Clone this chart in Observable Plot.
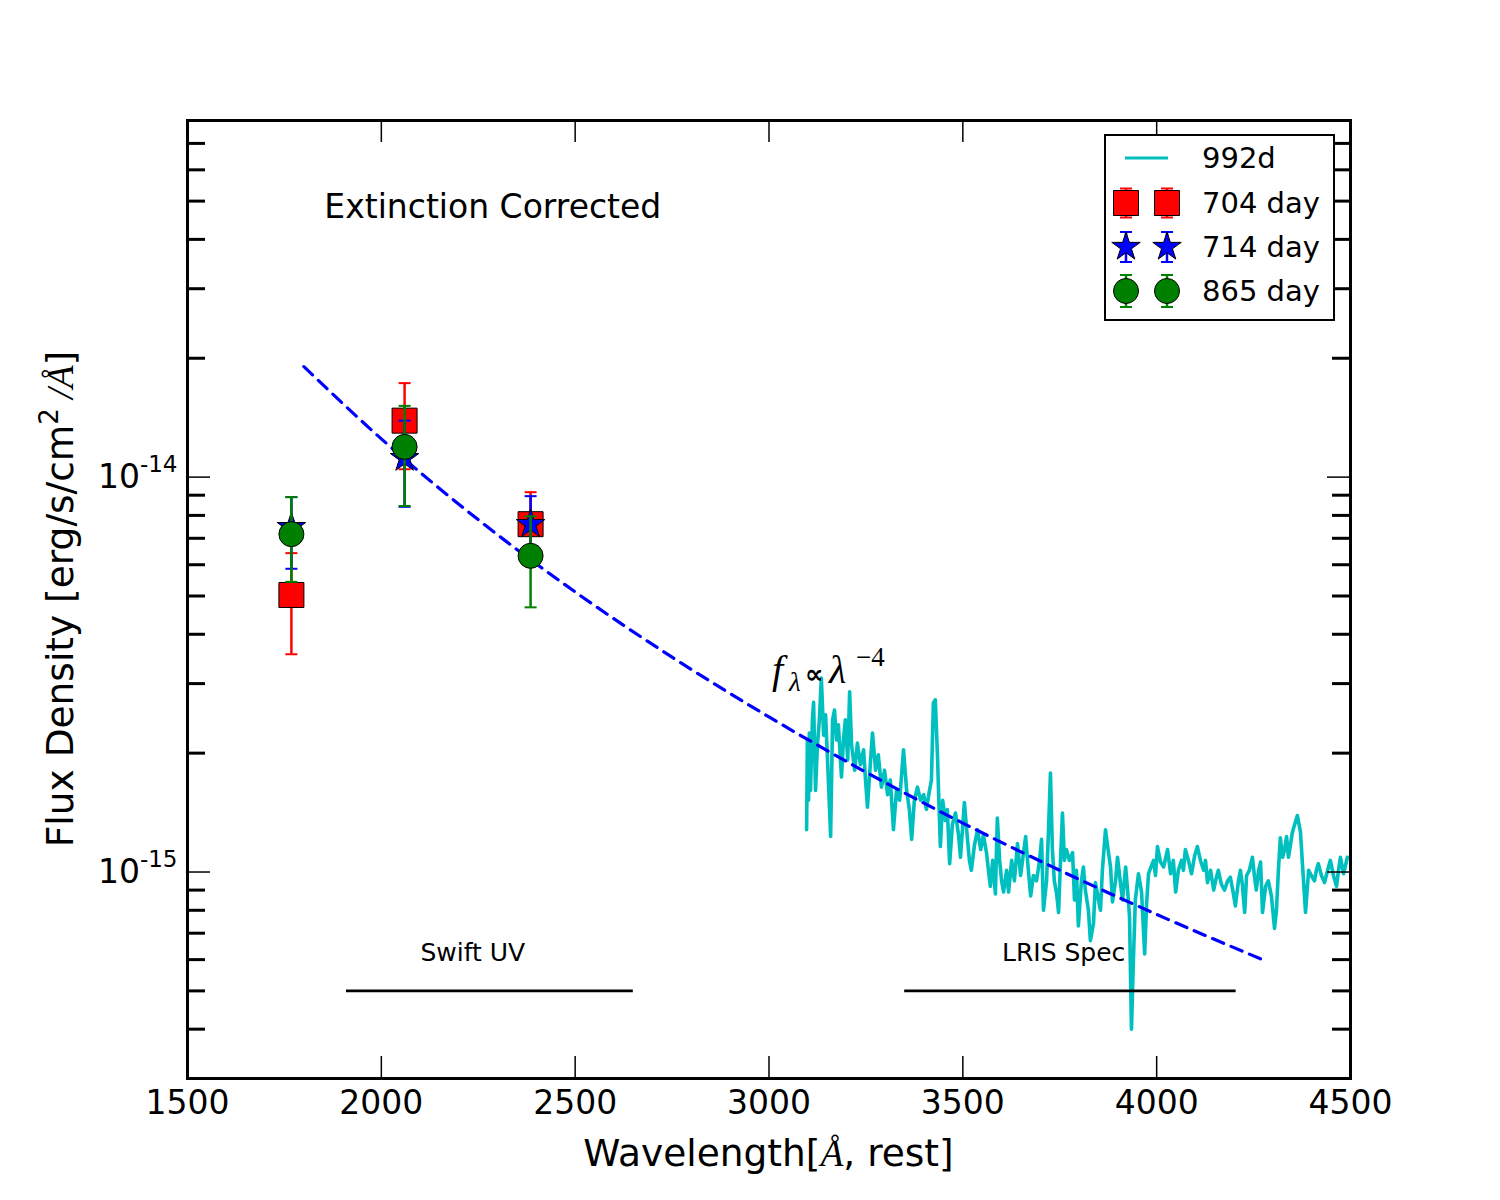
<!DOCTYPE html>
<html><head><meta charset="utf-8">
<script src="https://cdn.jsdelivr.net/npm/d3@7"></script>
<script src="https://cdn.jsdelivr.net/npm/@observablehq/plot@0.6"></script>
<style>
body{margin:0;background:#fff;}
#chart{position:relative;width:1500px;height:1200px;}
</style></head><body><div id="chart"></div>
<script>
// ---------- DATA ----------
// 992d spectrum: wavelength (Å, rest) and flux (units of 1e-15 erg/s/cm2/Å)
const specWave = [
3097,3099,3102,3104,3107,3112,3115,3120,3125,3130,
3135,3141,3146,3151,3159,3164,3169,3174,3179,3187,
3192,3197,3203,3208,3213,3221,3228,3236,3244,3249,
3254,3262,3267,3275,3282,3290,3298,3306,3313,3321,
3329,3337,3347,3355,3362,3368,3375,3383,3391,3399,
3406,3414,3419,3424,3429,3435,3437,3442,3448,3455,
3460,3466,3473,3481,3489,3494,3499,3504,3512,3517,
3522,3530,3538,3546,3553,3561,3566,3571,3577,3584,
3589,3595,3600,3605,3613,3618,3626,3633,3641,3649,
3654,3662,3669,3675,3682,3690,3698,3703,3708,3716,
3721,3726,3731,3736,3742,3747,3752,3757,3762,3767,
3775,3783,3788,3793,3798,3806,3811,3816,3824,3829,
3837,3842,3850,3855,3860,3868,3873,3881,3886,3894,
3899,3907,3912,3920,3925,3930,3935,3940,3945,3953,
3961,3969,3974,3979,3987,3992,3997,4002,4010,4018,
4028,4036,4043,4049,4056,4064,4069,4074,4082,4090,
4098,4105,4113,4121,4126,4131,4139,4147,4152,4159,
4167,4175,4183,4190,4198,4203,4211,4216,4221,4227,
4232,4239,4247,4252,4257,4263,4268,4273,4281,4288,
4296,4304,4309,4314,4319,4325,4330,4335,4340,4345,
4350,4358,4363,4371,4376,4384,4392,4399,4407,4412,
4417,4425,4433,4441,4448,4456,4464,4469,4474,4482,
4492];
const specFlux = [
1.28,2.16,1.52,2.25,1.61,2.43,2.69,1.61,2.10,2.43,
3.10,2.22,2.50,1.92,1.23,2.43,2.57,2.16,2.36,1.74,
2.16,2.43,1.92,2.86,2.10,1.81,2.12,1.87,2.04,1.71,
1.46,1.92,2.25,1.81,1.98,1.64,1.81,1.57,1.71,1.28,
1.61,1.52,2.04,1.61,1.44,1.21,1.52,1.64,1.52,1.57,
1.44,1.61,1.71,2.68,2.73,1.92,1.64,1.16,1.52,1.35,
1.44,1.05,1.32,1.41,1.24,1.09,1.28,1.50,1.21,1.07,
1.01,1.17,1.28,1.14,1.24,1.12,1.01,0.92,1.07,0.88,
1.37,1.07,0.95,0.89,1.01,0.89,1.07,0.95,1.18,0.98,
1.07,1.23,1.01,0.87,0.98,0.95,1.07,1.21,0.80,0.95,
1.28,1.78,1.14,0.95,0.88,0.79,1.07,1.41,1.07,1.14,
1.07,1.12,0.85,1.01,0.73,0.95,1.03,0.90,0.80,0.67,
0.74,0.94,0.85,0.80,1.01,1.28,1.17,1.03,0.84,0.95,
1.09,0.93,0.85,1.03,0.90,0.77,0.40,0.60,0.85,0.99,
0.89,0.62,0.83,0.99,1.04,1.07,0.98,1.16,1.06,1.03,
1.14,0.99,1.07,0.89,1.01,1.07,1.01,1.14,1.07,0.99,
1.10,1.16,1.07,1.01,1.07,0.94,1.01,0.90,0.95,1.01,
0.93,0.90,0.95,0.97,0.88,0.82,0.95,1.01,0.93,0.79,
0.98,1.01,1.09,0.98,0.90,1.01,1.06,0.79,0.92,0.95,
0.87,0.72,0.80,1.01,1.22,1.09,1.14,1.23,1.09,1.17,
1.26,1.34,1.39,1.26,1.05,0.79,1.01,0.98,0.95,1.01,
1.05,0.98,0.94,1.01,1.07,0.98,0.92,1.01,1.09,0.99,
1.09];

// f_lambda ∝ lambda^-4 model line
const modelWave = [1800, 2000, 2250, 2500, 2750, 3000, 3250, 3500, 3750, 4000, 4280];
const modelFlux = [1.905e-14, 1.25e-14, 7.80e-15, 5.12e-15, 3.50e-15, 2.47e-15, 1.79e-15, 1.33e-15, 1.01e-15, 7.81e-16, 5.96e-16];

// photometry
const ptWave = [1768, 2060, 2385];
const flux704 = [5.03e-15, 1.39e-14, 7.60e-15];
const lo704   = [3.56e-15, 1.047e-14, 6.04e-15];
const hi704   = [6.42e-15, 1.73e-14, 9.16e-15];
const flux714 = [7.47e-15, 1.117e-14, 7.60e-15];
const lo714   = [5.86e-15, 8.41e-15, 6.25e-15];
const hi714   = [8.90e-15, 1.39e-14, 8.95e-15];
const flux865 = [7.17e-15, 1.193e-14, 6.32e-15];
const lo865   = [5.43e-15, 8.45e-15, 4.68e-15];
const hi865   = [8.90e-15, 1.515e-14, 7.96e-15];

// bands
const bandNames = ["Swift UV", "LRIS Spec"];
const bandStart = [1910, 3350];
const bandEnd = [2650, 4205];
const bandLevel = 5e-16;
const bandLabelWave = [2236, 3760];
const bandLabelLevel = 6.24e-16;

// ticks
const xTicks = [1500, 2000, 2500, 3000, 3500, 4000, 4500];
const yMajor = [1e-15, 1e-14];
const yMinor = [4e-16,5e-16,6e-16,7e-16,8e-16,9e-16,2e-15,3e-15,4e-15,5e-15,6e-15,7e-15,8e-15,9e-15,2e-14,3e-14,4e-14,5e-14,6e-14,7e-14];

const legendLabels = ["992d", "704 day", "714 day", "865 day"];

// ---------- BUILD ----------
const W = 1500, H = 1200, mL = 187, mR = 150, mT = 120, mB = 122;
const fW = W - mL - mR, fH = H - mT - mB;

const spec = specWave.map((w, i) => ({w, f: specFlux[i] * 1e-15}));
const model = modelWave.map((w, i) => ({w, f: modelFlux[i]}));
const pts = (fl, lo, hi) => ptWave.map((w, i) => ({w, f: fl[i], lo: lo[i], hi: hi[i]}));
const s704 = pts(flux704, lo704, hi704);
const s714 = pts(flux714, lo714, hi714);
const s865 = pts(flux865, lo865, hi865);
const bands = bandNames.map((n, i) => ({n, x1: bandStart[i], x2: bandEnd[i], f: bandLevel, lw: bandLabelWave[i], lf: bandLabelLevel}));

const hcap = {draw(ctx, size) { const w = Math.sqrt(size); ctx.moveTo(-w / 2, 0); ctx.lineTo(w / 2, 0); }};
const capR = Math.sqrt(144 / Math.PI);

function errMarks(data, color, symbol, r) {
  return [
    Plot.ruleX(data, {x: "w", y1: "lo", y2: "hi", stroke: color, strokeWidth: 2.5}),
    Plot.dot(data, {x: "w", y: "lo", symbol: hcap, r: capR, stroke: color, strokeWidth: 2, fill: "none"}),
    Plot.dot(data, {x: "w", y: "hi", symbol: hcap, r: capR, stroke: color, strokeWidth: 2, fill: "none"}),
    Plot.dot(data, {x: "w", y: "f", symbol, r, fill: color, stroke: "black", strokeWidth: 1})
  ];
}
const rSquare = 25 / Math.sqrt(Math.PI);
const rStar = Math.sqrt(252 / Math.PI);
const rCircle = 12.5;

const plot = Plot.plot({
  width: W, height: H,
  marginLeft: mL, marginRight: mR, marginTop: mT, marginBottom: mB,
  style: {fontFamily: "DejaVu Sans", fontSize: "33px", background: "white", color: "black", overflow: "visible"},
  x: {domain: [1500, 4500]},
  y: {type: "log", domain: [3e-16, 8e-14]},
  marks: [
    Plot.line(spec, {x: "w", y: "f", stroke: "#00bfbf", strokeWidth: 3.6, strokeLinejoin: "round"}),
    Plot.line(model, {x: "w", y: "f", stroke: "#0000ff", strokeWidth: 3.2, strokeDasharray: "12,8", curve: "monotone-x"}),
    Plot.ruleY(bands, {y: "f", x1: "x1", x2: "x2", stroke: "black", strokeWidth: 2.8}),
    Plot.text(bands, {x: "lw", y: "lf", text: "n", fontSize: 25, fontFamily: "DejaVu Sans", fill: "black", textAnchor: "middle"}),
    Plot.text(["Extinction Corrected"], {x: () => 1853, y: () => 4.81e-14, text: d => d, fontSize: 33, fontFamily: "DejaVu Sans", fill: "black", textAnchor: "start"}),
    ...errMarks(s704, "#ff0000", "square", rSquare),
    ...errMarks(s714, "#0000ff", "star", rStar),
    ...errMarks(s865, "#008000", "circle", rCircle),
    // inward ticks
    Plot.tickY(yMinor, {y: d => d, stroke: "black", strokeWidth: 3, insetRight: fW - 18}),
    Plot.tickY(yMinor, {y: d => d, stroke: "black", strokeWidth: 3, insetLeft: fW - 18}),
    Plot.tickY(yMajor, {y: d => d, stroke: "black", strokeWidth: 1.5, insetRight: fW - 23}),
    Plot.tickY(yMajor, {y: d => d, stroke: "black", strokeWidth: 1.5, insetLeft: fW - 23}),
    Plot.tickX(xTicks, {x: d => d, stroke: "black", strokeWidth: 1.5, insetTop: fH - 22}),
    Plot.tickX(xTicks, {x: d => d, stroke: "black", strokeWidth: 1.5, insetBottom: fH - 22}),
    Plot.axisX({ticks: xTicks, tickSize: 0, tickPadding: 12, fontSize: 33, label: null, tickFormat: d => String(d)}),
    Plot.axisY({ticks: yMajor, tickSize: 0, tickPadding: 10, fontSize: 33, label: null, tickFormat: d => "10|" + Math.round(Math.log10(d))}),
    Plot.frame({stroke: "black", strokeWidth: 3})
  ]
});

document.getElementById("chart").appendChild(plot);
const svg = d3.select(plot);

// superscript y tick labels
svg.selectAll('g[aria-label="y-axis tick label"] text').each(function () {
  const t = d3.select(this);
  const parts = t.text().split("|");
  t.text(parts[0]);
  t.append("tspan").attr("dy", "-16").attr("font-size", "23px").text(parts[1]);
});

// scales
function mk(name, fallback) {
  const s = plot.scale(name);
  if (s && typeof s.apply === "function") return v => s.apply(v);
  return fallback(s);
}
const fx = mk("x", s => d3.scaleLinear(s.domain, s.range));
const fy = mk("y", s => d3.scaleLog(s.domain, s.range));

// math annotation f_λ ∝ λ^-4
{
  const ax = fx(3009), ay = fy(3.01e-15);
  const t = svg.append("text").attr("x", ax).attr("y", ay).attr("text-anchor", "start")
    .attr("font-family", "Liberation Serif, DejaVu Serif, serif").attr("font-size", 40).attr("fill", "black");
  t.append("tspan").attr("font-style", "italic").text("f");
  t.append("tspan").attr("font-style", "italic").attr("font-size", 27).attr("dy", 8).attr("x", ax + 17).text("λ");
  t.append("tspan").attr("dy", -8).attr("x", ax + 33).attr("font-family", "DejaVu Sans, sans-serif").attr("font-weight", "bold").attr("font-size", 26).text("∝");
  t.append("tspan").attr("font-style", "italic").attr("x", ax + 57).text("λ");
  t.append("tspan").attr("font-size", 27).attr("dy", -17).attr("x", ax + 84).text("−4");
}

// axis labels
svg.append("text").attr("x", mL + fW / 2).attr("y", 1166).attr("text-anchor", "middle")
  .attr("font-family", "DejaVu Sans").attr("font-size", 37.5).attr("fill", "black")
  .call(t => {
    t.append("tspan").text("Wavelength[");
    t.append("tspan").attr("font-family", "Liberation Serif, DejaVu Serif, serif").attr("font-style", "italic").text("Å");
    t.append("tspan").text(", rest]");
  });
svg.append("text").attr("transform", `translate(73,${mT + fH / 2}) rotate(-90)`).attr("text-anchor", "middle")
  .attr("font-family", "DejaVu Sans").attr("font-size", 37.5).attr("fill", "black")
  .call(t => {
    t.append("tspan").text("Flux Density [erg/s/cm");
    t.append("tspan").attr("font-size", 26).attr("dy", -15).text("2");
    t.append("tspan").attr("dy", 15).attr("font-family", "Liberation Serif, DejaVu Serif, serif").attr("font-style", "italic").text(" /Å");
    t.append("tspan").text("]");
  });

// legend
{
  const g = svg.append("g");
  g.append("rect").attr("x", 1105).attr("y", 135).attr("width", 229).attr("height", 185)
    .attr("fill", "white").attr("stroke", "black").attr("stroke-width", 2);
  const rows = [158, 203, 247, 291];
  const sx = [1126, 1167];
  const tx = 1202;
  g.append("line").attr("x1", 1125).attr("x2", 1168).attr("y1", rows[0]).attr("y2", rows[0])
    .attr("stroke", "#00bfbf").attr("stroke-width", 3.2);
  const defs = [
    {c: "#ff0000", sym: d3.symbolSquare, size: 625, e: 14.5},
    {c: "#0000ff", sym: d3.symbolStar, size: 252, e: 15},
    {c: "#008000", sym: d3.symbolCircle, size: Math.PI * 12.5 * 12.5, e: 16}
  ];
  defs.forEach((d, i) => {
    const y = rows[i + 1];
    sx.forEach(x => {
      g.append("line").attr("x1", x).attr("x2", x).attr("y1", y - d.e).attr("y2", y + d.e).attr("stroke", d.c).attr("stroke-width", 2.5);
      [y - d.e, y + d.e].forEach(yy => g.append("line").attr("x1", x - 6).attr("x2", x + 6).attr("y1", yy).attr("y2", yy).attr("stroke", d.c).attr("stroke-width", 2));
      g.append("path").attr("d", d3.symbol(d.sym, d.size)()).attr("transform", `translate(${x},${y})`)
        .attr("fill", d.c).attr("stroke", "black").attr("stroke-width", 1);
    });
  });
  legendLabels.forEach((l, i) => {
    g.append("text").attr("x", tx).attr("y", rows[i]).attr("dy", "0.36em").attr("text-anchor", "start")
      .attr("font-family", "DejaVu Sans").attr("font-size", 29).attr("fill", "black").text(l);
  });
}
</script></body></html>
